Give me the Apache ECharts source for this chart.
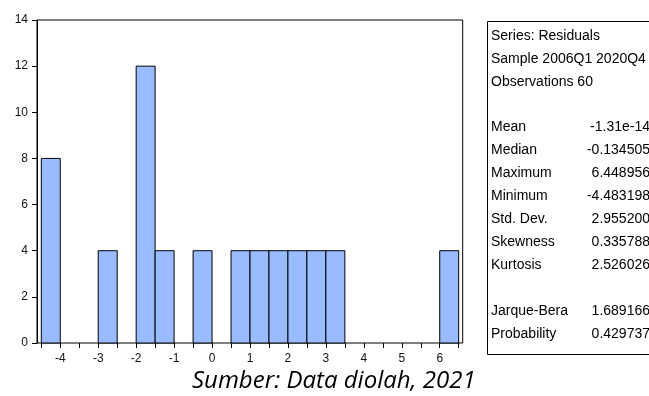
<!DOCTYPE html>
<html>
<head>
<meta charset="utf-8">
<script src="https://cdn.jsdelivr.net/npm/echarts@6/dist/echarts.min.js"></script>
<style>
html,body{margin:0;padding:0;background:#fff;}
#chart{width:649px;height:396px;}
</style>
</head>
<body>
<div id="chart"></div>
<script>
// Histogram bins (left edge, width 0.5) and counts
var binLeft = [-4.5,-4.0,-3.5,-3.0,-2.5,-2.0,-1.5,-1.0,-0.5,0.0,0.5,1.0,1.5,2.0,2.5,3.0,3.5,4.0,4.5,5.0,5.5,6.0];
var counts  = [8,0,0,4,0,12,4,0,4,0,4,4,4,4,4,4,0,0,0,0,0,4];
var binWidth = 0.5;
var yTicks = [0,2,4,6,8,10,12,14];
var xTickLabels = [-4,-3,-2,-1,0,1,2,3,4,5,6];

var headerLines = ['Series: Residuals','Sample 2006Q1 2020Q4','Observations 60'];
var statLabels = ['Mean','Median','Maximum','Minimum','Std. Dev.','Skewness','Kurtosis','','Jarque-Bera','Probability'];
var statValues = ['-1.31e-14','-0.134505','6.448956','-4.483198','2.955200','0.335788','2.526026','','1.689166','0.429737'];
var caption = 'Sumber: Data diolah, 2021';

var chart = echarts.init(document.getElementById('chart'), null, {renderer:'canvas'});

var data = binLeft.map(function(x,i){ return [x, x+binWidth, counts[i]]; }).filter(function(d){return d[2]>0;});

var lineStep = 22.9, firstLine = 37;
var font = '14px "Liberation Sans", Arial';
var graphics = [];
graphics.push({type:'rect', left:485, top:19, shape:{width:200, height:333}, style:{fill:'none', stroke:'#000', lineWidth:1}, silent:true});
headerLines.forEach(function(t,i){
  graphics.push({type:'text', left:491, top:firstLine - 8 + i*lineStep, style:{text:t, font:font, fill:'#000'}});
});
statLabels.forEach(function(t,i){
  if(!t) return;
  var y = firstLine - 8 + (i+4)*lineStep;
  graphics.push({type:'text', left:491, top:y, style:{text:t, font:font, fill:'#000'}});
  graphics.push({type:'text', right:-1, top:y, style:{text:statValues[i], font:font, fill:'#000', textAlign:'right'}});
});
graphics.push({type:'text', left:192, top:369, style:{text:caption, font:'italic 24px "Open Sans", sans-serif', fill:'#000'}});

chart.setOption({
  animation:false,
  backgroundColor:'#fff',
  grid:[
    {left:37, top:20, width:425.7, height:323, show:true, borderColor:'#000', borderWidth:1, backgroundColor:'transparent'},
    {left:41.3, top:20, width:417.4, height:323, show:false}
  ],
  xAxis:[
    {gridIndex:0, type:'value', min:0, max:1, show:false},
    {gridIndex:1, type:'value', min:-4.5, max:6.5, interval:0.5,
     axisLine:{show:false},
     axisTick:{show:true, length:5, lineStyle:{color:'#000', width:1}},
     splitLine:{show:false},
     axisLabel:{fontSize:12, color:'#111', margin:10, fontFamily:'"Liberation Sans", Arial',
       formatter:function(v){ var r=Math.round(v); return (Math.abs(v-r)<1e-6 && xTickLabels.indexOf(r)>=0)? String(r):''; }}
    }
  ],
  yAxis:[
    {gridIndex:0, type:'value', min:0, max:14, interval:2,
     axisLine:{show:true, lineStyle:{color:'#000'}},
     axisTick:{show:true, length:5, lineStyle:{color:'#000'}},
     splitLine:{show:false},
     axisLabel:{fontSize:12, color:'#111', margin:9, fontFamily:'"Liberation Sans", Arial',
       formatter:function(v){ return yTicks.indexOf(v)>=0? String(v):''; }}
    },
    {gridIndex:1, type:'value', min:0, max:14, show:false}
  ],
  series:[{
    type:'custom', xAxisIndex:1, yAxisIndex:1,
    data:data,
    encode:{x:[0,1], y:2},
    renderItem:function(params, api){
      var p0 = api.coord([api.value(0), 0]);
      var p1 = api.coord([api.value(1), api.value(2)]);
      return {type:'rect', shape:{x:p0[0], y:p1[1], width:p1[0]-p0[0], height:p0[1]-p1[1]},
        style:{fill:'#99BBFF', stroke:'#000', lineWidth:1}};
    }
  }],
  graphic:graphics
});
</script>
</body>
</html>
